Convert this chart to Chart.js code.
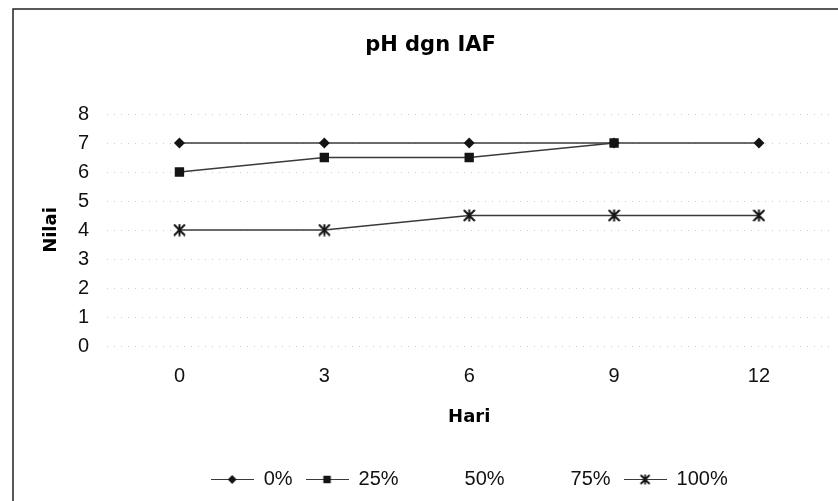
<!DOCTYPE html>
<html>
<head>
<meta charset="utf-8">
<title>pH dgn IAF</title>
<script src="https://cdn.jsdelivr.net/npm/chart.js@4.4.0/dist/chart.umd.min.js"></script>
<style>
  html, body { margin: 0; padding: 0; background: #ffffff; }
  #wrap { width: 838px; height: 501px; }
</style>
</head>
<body>
<div id="wrap"><canvas id="c" width="838" height="501"></canvas></div>
<script>
// Hari (days) on the x axis
const days = [0, 3, 6, 9, 12];
const seriesNames = ['0%', '25%', '50%', '75%', '100%'];
// pH readings per IAF concentration
const ph0 = [7, 7, 7, 7, 7];
const ph25 = [6, 6.5, 6.5, 7, null];
const ph50 = [null, null, null, null, null];
const ph75 = [null, null, null, null, null];
const ph100 = [4, 4, 4.5, 4.5, 4.5];
const yMin = 0, yMax = 8, yStep = 1;

const INK = '#141414';
const LINE = '#3a3a3a';

// asterisk marker: an X crossed by a vertical bar
function asterisk(size, lw) {
  const cv = document.createElement('canvas');
  cv.width = size; cv.height = size;
  const ctx = cv.getContext('2d');
  const c = size / 2, r = size / 2 - 1;
  ctx.strokeStyle = INK;
  ctx.lineWidth = lw;
  ctx.lineCap = 'butt';
  ctx.beginPath();
  ctx.moveTo(c - r, c - r); ctx.lineTo(c + r, c + r);
  ctx.moveTo(c + r, c - r); ctx.lineTo(c - r, c + r);
  ctx.moveTo(c, c - r - 0.5); ctx.lineTo(c, c + r + 0.5);
  ctx.stroke();
  return cv;
}

const markers = [
  { pointStyle: 'rectRot', radius: 5.5, borderWidth: 0 },
  { pointStyle: 'rect', radius: 6.6, borderWidth: 0 },
  null,
  null,
  { pointStyle: asterisk(13, 2), legendStyle: asterisk(11, 1.8), radius: 6.5, borderWidth: 0 }
];
const seriesValues = [ph0, ph25, ph50, ph75, ph100];

function toPoints(vals) {
  return days.map((d, i) => ({ x: d, y: vals[i] }));
}

// small line-with-marker swatches for the legend
function legendSwatch(m) {
  const cv = document.createElement('canvas');
  cv.width = 43; cv.height = 16;
  const ctx = cv.getContext('2d');
  if (!m) return cv;
  ctx.strokeStyle = LINE;
  ctx.lineWidth = 1.2;
  ctx.beginPath();
  ctx.moveTo(0, 8.5); ctx.lineTo(43, 8.5);
  ctx.stroke();
  if (m.legendStyle) {
    ctx.drawImage(m.legendStyle, 21.5 - m.legendStyle.width / 2, 8.5 - m.legendStyle.height / 2);
    return cv;
  }
  ctx.fillStyle = INK;
  ctx.strokeStyle = INK;
  Chart.helpers.drawPoint(ctx, {
    pointStyle: m.pointStyle,
    radius: m.radius * 0.8,
    rotation: 0,
    borderWidth: m.borderWidth
  }, 21.5, 8.5);
  return cv;
}

const datasets = seriesNames.map((name, i) => {
  const m = markers[i];
  return {
    label: name,
    data: toPoints(seriesValues[i]),
    borderColor: m ? LINE : 'rgba(0,0,0,0)',
    borderWidth: 1.3,
    backgroundColor: INK,
    pointStyle: m ? m.pointStyle : 'circle',
    pointRadius: m ? m.radius : 0,
    pointHoverRadius: m ? m.radius : 0,
    pointBackgroundColor: INK,
    pointBorderColor: INK,
    pointBorderWidth: m ? m.borderWidth : 0,
    tension: 0,
    spanGaps: false,
    order: i === 0 ? 1 : 0
  };
});

const frame = {
  id: 'frame',
  beforeDraw(chart) {
    const ctx = chart.ctx;
    ctx.save();
    ctx.fillStyle = '#ffffff';
    ctx.fillRect(0, 0, chart.width, chart.height);
    ctx.strokeStyle = '#222222';
    ctx.lineWidth = 1.5;
    ctx.beginPath();
    ctx.moveTo(13, chart.height);
    ctx.lineTo(13, 9);
    ctx.lineTo(chart.width, 9);
    ctx.stroke();
    ctx.restore();
  }
};

new Chart(document.getElementById('c'), {
  type: 'line',
  data: { datasets },
  plugins: [frame],
  options: {
    responsive: false,
    devicePixelRatio: 1,
    animation: false,
    events: [],
    layout: { padding: { left: 28, right: 5, top: 0, bottom: 2 } },
    plugins: {
      tooltip: { enabled: false },
      title: {
        display: true,
        text: 'pH dgn IAF',
        color: '#000000',
        font: { family: 'DejaVu Sans', weight: 'bold', size: 21 },
        padding: { top: 33, bottom: 55.8 }
      },
      legend: {
        display: true,
        position: 'bottom',
        fullSize: false,
        labels: {
          usePointStyle: true,
          pointStyleWidth: 43,
          padding: 13,
          color: '#111111',
          font: { family: 'Liberation Sans', size: 20 },
          generateLabels(chart) {
            return seriesNames.map((name, i) => ({
              text: name,
              pointStyle: legendSwatch(markers[i]),
              fillStyle: 'rgba(0,0,0,0)',
              strokeStyle: 'rgba(0,0,0,0)',
              lineWidth: 0,
              hidden: false,
              datasetIndex: i,
              fontColor: '#111111'
            }));
          }
        }
      }
    },
    scales: {
      x: {
        type: 'linear',
        min: -1.5,
        max: 13.5,
        afterBuildTicks(scale) {
          scale.ticks = days.map(v => ({ value: v }));
        },
        afterFit(scale) { scale.height = 110; },
        grid: { display: false, drawTicks: false },
        border: { display: false },
        ticks: {
          padding: 18,
          color: '#111111',
          font: { family: 'Liberation Sans', size: 20 },
          maxRotation: 0,
          callback: v => String(v)
        },
        title: {
          display: true,
          text: 'Hari',
          color: '#000000',
          font: { family: 'DejaVu Sans', weight: 'bold', size: 18 },
          padding: { top: 0, bottom: 28 }
        }
      },
      y: {
        min: yMin,
        max: yMax,
        afterFit(scale) { scale.width = 79; },
        grid: {
          display: true,
          drawTicks: false,
          color: 'rgba(0,0,0,0.2)',
          lineWidth: 1
        },
        border: { display: false, dash: [1, 6] },
        ticks: {
          stepSize: yStep,
          padding: 18,
          color: '#111111',
          font: { family: 'Liberation Sans', size: 20 }
        },
        title: {
          display: true,
          text: 'Nilai',
          color: '#000000',
          font: { family: 'DejaVu Sans', weight: 'bold', size: 18 },
          padding: { top: 13, bottom: 0 }
        }
      }
    }
  }
});
</script>
</body>
</html>
